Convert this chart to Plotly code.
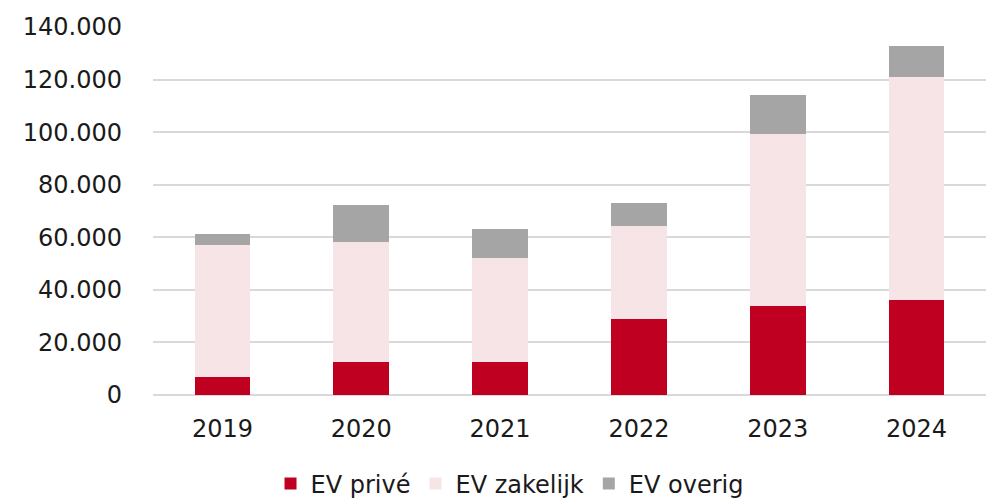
import plotly.graph_objects as go

years = ["2019", "2020", "2021", "2022", "2023", "2024"]
ev_prive = [6900, 12600, 12600, 29000, 33900, 36200]
ev_zakelijk = [50300, 45700, 39600, 35400, 65500, 84600]
ev_overig = [4200, 14100, 11100, 8800, 14900, 11800]

series = [
    ("EV privé", ev_prive, "#C00020"),
    ("EV zakelijk", ev_zakelijk, "#F7E4E6"),
    ("EV overig", ev_overig, "#A5A5A5"),
]

fig = go.Figure()
for name, vals, color in series:
    fig.add_trace(go.Bar(x=years, y=vals, name=name, marker=dict(color=color, line=dict(width=0))))

fig.update_layout(
    barmode="stack",
    bargap=0.6,
    width=1004,
    height=504,
    margin=dict(l=153, r=18, t=27, b=109, autoexpand=False),
    paper_bgcolor="white",
    plot_bgcolor="white",
    separators=",.",
    font=dict(family="DejaVu Sans", size=22, color="#1a1a1a"),
    showlegend=True,
    legend=dict(
        orientation="h",
        xref="paper",
        x=0.428,
        xanchor="center",
        yref="container",
        y=20 / 504,
        yanchor="middle",
        font=dict(size=24),
        traceorder="normal",
    ),
    xaxis=dict(
        showgrid=False,
        showline=False,
        ticks="",
        tickfont=dict(size=24),
        ticklabelstandoff=17,
    ),
    yaxis=dict(
        range=[0, 140000],
        dtick=20000,
        tickformat=",d",
        showgrid=True,
        gridcolor="#D9D9D9",
        gridwidth=1.5,
        zeroline=True,
        zerolinecolor="#D9D9D9",
        zerolinewidth=1.5,
        showline=False,
        ticks="",
        tickfont=dict(size=24),
        ticklabelstandoff=30,
    ),
)

fig.write_html(
    "out.html",
    config={"displayModeBar": False},
    post_script="document.documentElement.style.overflow='hidden';"
    "document.body.style.margin='0';document.body.style.overflow='hidden';",
)
